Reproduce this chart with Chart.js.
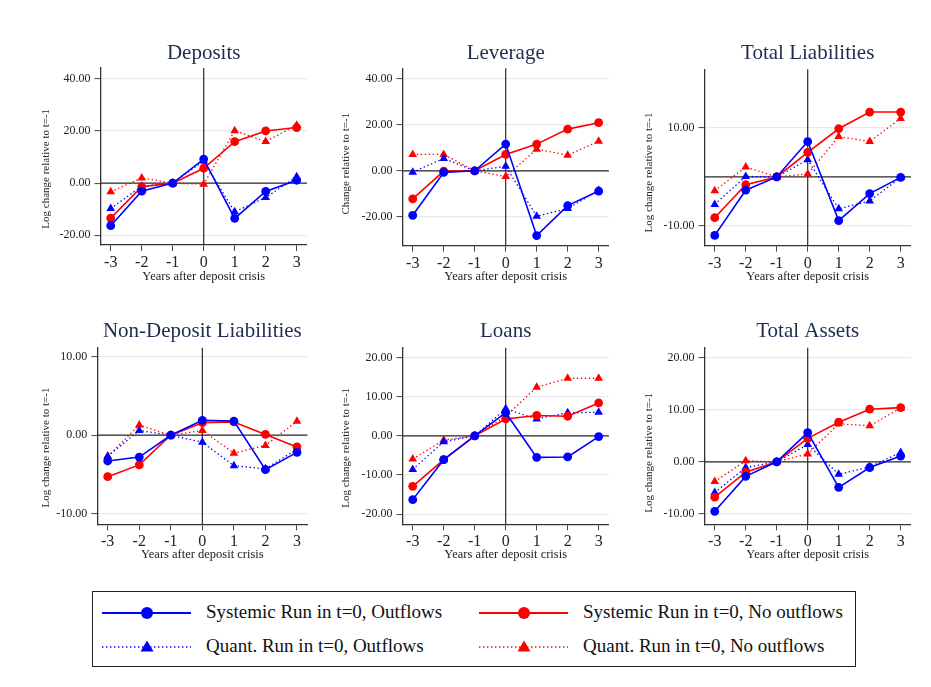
<!DOCTYPE html>
<html>
<head>
<meta charset="utf-8">
<script src="https://cdn.jsdelivr.net/npm/chart.js@4.4.1/dist/chart.umd.min.js"></script>
<style>
  html, body { margin: 0; padding: 0; background: #fff; }
  body { width: 931px; height: 687px; position: relative; overflow: hidden;
         font-family: "Liberation Serif", "Times New Roman", serif; }
  canvas.panel { position: absolute; }
  #legend { position: absolute; left: 92px; top: 591px; width: 764px; height: 76px;
            border: 1.5px solid #222; box-sizing: border-box; }
  #legend .item { position: absolute; height: 30px; }
  #legend svg { position: absolute; left: 0; top: 0; }
  #legend span { position: absolute; top: 3px; font-size: 19px; color: #111; white-space: nowrap; }
</style>
</head>
<body>
<canvas class="panel" id="p0"></canvas>
<canvas class="panel" id="p1"></canvas>
<canvas class="panel" id="p2"></canvas>
<canvas class="panel" id="p3"></canvas>
<canvas class="panel" id="p4"></canvas>
<canvas class="panel" id="p5"></canvas>
<div id="legend"></div>

<script>
// ---- Data ----------------------------------------------------------------
const years = [-3, -2, -1, 0, 1, 2, 3];
const xTicks = [-3, -2, -1, 0, 1, 2, 3];
const xTitle = "Years after deposit crisis";

const seriesNames = [
  "Systemic Run in t=0, Outflows",
  "Systemic Run in t=0, No outflows",
  "Quant. Run in t=0, Outflows",
  "Quant. Run in t=0, No outflows"
];

const panelTitles = ["Deposits", "Leverage", "Total Liabilities",
                     "Non-Deposit Liabilities", "Loans", "Total Assets"];
const yTitles = ["Log change relative to t=-1", "Change relative to t=-1",
                 "Log change relative to t=-1", "Log change relative to t=-1",
                 "Log change relative to t=-1", "Log change relative to t=-1"];

// Deposits
const depositsSysOut   = [-16.3, -3.1, 0, 9.2, -13.5, -3.2, 1.1];
const depositsSysNo    = [-13.4, -1.4, 0, 5.7, 15.9, 20.0, 21.3];
const depositsQuantOut = [-9.7, -1.2, 0, 8.5, -11.0, -5.5, 2.4];
const depositsQuantNo  = [-3.3, 2.0, 0, -0.4, 20.1, 15.9, 22.2];
const depositsTicks    = [-20, 0, 20, 40];

// Leverage
const leverageSysOut   = [-19.3, -0.7, 0, 11.6, -28.1, -15.1, -8.8];
const leverageSysNo    = [-12.2, -0.1, 0, 7.1, 11.6, 18.1, 20.9];
const leverageQuantOut = [-0.6, 5.4, 0, 2.0, -19.7, -16.4, -8.4];
const leverageQuantNo  = [7.1, 7.1, 0, -2.5, 9.4, 6.8, 12.8];
const leverageTicks    = [-20, 0, 20, 40];

// Total Liabilities
const liabSysOut   = [-11.9, -2.7, 0, 7.2, -8.9, -3.4, -0.1];
const liabSysNo    = [-8.3, -1.6, 0, 5.0, 9.8, 13.2, 13.2];
const liabQuantOut = [-5.6, 0.1, 0, 3.5, -6.5, -4.9, -0.1];
const liabQuantNo  = [-2.8, 2.0, 0, 0.6, 8.2, 7.2, 11.9];
const liabTicks    = [-10, 10];

// Non-Deposit Liabilities
const nonDepSysOut   = [-3.3, -2.8, 0, 1.9, 1.8, -4.4, -2.2];
const nonDepSysNo    = [-5.3, -3.8, 0, 1.6, 1.7, 0.1, -1.5];
const nonDepQuantOut = [-2.7, 0.6, 0, -0.9, -3.9, -4.3, -1.8];
const nonDepQuantNo  = [-2.7, 1.3, 0, 0.6, -2.3, -1.3, 1.8];
const nonDepTicks    = [-10, 0, 10];

// Loans
const loansSysOut   = [-16.3, -6.1, 0, 5.9, -5.5, -5.4, -0.2];
const loansSysNo    = [-12.9, -6.1, 0, 4.3, 5.2, 5.0, 8.4];
const loansQuantOut = [-8.6, -1.5, 0, 6.9, 4.3, 5.9, 6.0];
const loansQuantNo  = [-5.9, -1.1, 0, 5.0, 12.4, 14.7, 14.7];
const loansTicks    = [-20, -10, 0, 10, 20];

// Total Assets
const assetsSysOut   = [-9.5, -2.8, 0, 5.6, -4.9, -1.1, 1.1];
const assetsSysNo    = [-6.8, -2.0, 0, 4.5, 7.6, 10.1, 10.4];
const assetsQuantOut = [-5.9, -1.1, 0, 3.3, -2.4, -1.0, 1.8];
const assetsQuantNo  = [-3.8, 0.2, 0, 1.5, 7.3, 6.9, 10.3];
const assetsTicks    = [-10, 0, 10, 20];

// ---- Panel table built from the arrays above --------------------------------
const panelSeries = [
  [depositsSysOut, depositsSysNo, depositsQuantOut, depositsQuantNo],
  [leverageSysOut, leverageSysNo, leverageQuantOut, leverageQuantNo],
  [liabSysOut, liabSysNo, liabQuantOut, liabQuantNo],
  [nonDepSysOut, nonDepSysNo, nonDepQuantOut, nonDepQuantNo],
  [loansSysOut, loansSysNo, loansQuantOut, loansQuantNo],
  [assetsSysOut, assetsSysNo, assetsQuantOut, assetsQuantNo]
];
const panelTicks = [depositsTicks, leverageTicks, liabTicks, nonDepTicks, loansTicks, assetsTicks];
const panelRanges = [[-23.7, 44.1], [-32.5, 44.5], [-14.0, 21.9],
                     [-11.4, 11.2], [-22.6, 22.5], [-12.0, 21.9]];
const X_MIN = -3.33, X_MAX = 3.33;

// ---- Page geometry (canvas box + plot area, page pixels) --------------------
const frames = [
  { cx0: 0,   cx1: 320, cy0: 30,  cy1: 290, L: 100.5, R: 306.9, T: 68.0,  B: 245.0, titleY: 59,  yTitleX: 46,  yTitleY: 168.8, xTitleY: 276.7 },
  { cx0: 320, cx1: 620, cy0: 30,  cy1: 290, L: 402.5, R: 608.9, T: 68.3,  B: 245.7, titleY: 59,  yTitleX: 346, yTitleY: 163.7, xTitleY: 276.7 },
  { cx0: 620, cx1: 931, cy0: 30,  cy1: 290, L: 704.5, R: 910.9, T: 69.3,  B: 245.7, titleY: 59,  yTitleX: 649, yTitleY: 172.5, xTitleY: 276.7 },
  { cx0: 0,   cx1: 320, cy0: 305, cy1: 570, L: 97.3,  R: 307.4, T: 347.7, B: 524.3, titleY: 337, yTitleX: 46,  yTitleY: 447.5, xTitleY: 555 },
  { cx0: 320, cx1: 620, cy0: 305, cy1: 570, L: 402.5, R: 608.9, T: 347.7, B: 524.3, titleY: 337, yTitleX: 346, yTitleY: 447.8, xTitleY: 555 },
  { cx0: 620, cx1: 931, cy0: 305, cy1: 570, L: 704.5, R: 910.9, T: 347.7, B: 524.3, titleY: 337, yTitleX: 649, yTitleY: 452.8, xTitleY: 555 }
];

const BLUE = '#0000ff', RED = '#ff0000';
const SERIF = '"Liberation Serif", "Times New Roman", serif';
const seriesStyles = [
  { color: BLUE, dash: [],         width: 1.6, point: 'circle',   radius: 4.4 },
  { color: RED,  dash: [],         width: 1.6, point: 'circle',   radius: 4.4 },
  { color: BLUE, dash: [1.4, 2.6], width: 1.3, point: 'triangle', radius: 5.0 },
  { color: RED,  dash: [1.4, 2.6], width: 1.3, point: 'triangle', radius: 5.0 }
];

// Reference lines at x = 0 and y = 0, drawn under the series
const zeroLines = {
  id: 'zeroLines',
  beforeDatasetsDraw(chart) {
    const { ctx, chartArea: a, scales: { x, y } } = chart;
    ctx.save();
    ctx.strokeStyle = '#2a2a2a';
    ctx.lineWidth = 1.2;
    const py = y.getPixelForValue(0), px = x.getPixelForValue(0);
    ctx.beginPath();
    ctx.moveTo(a.left, py); ctx.lineTo(a.right, py);
    ctx.moveTo(px, a.top); ctx.lineTo(px, a.bottom);
    ctx.stroke();
    ctx.restore();
  }
};

// Panel heading and axis titles
const panelText = {
  id: 'panelText',
  afterDraw(chart, args, o) {
    const { ctx, chartArea: a } = chart;
    const cx = (a.left + a.right) / 2;
    ctx.save();
    ctx.fillStyle = '#1d2d50';
    ctx.font = '21px ' + SERIF;
    ctx.textAlign = 'center';
    ctx.textBaseline = 'alphabetic';
    ctx.fillText(o.title, cx, o.titleY);

    ctx.fillStyle = '#222';
    ctx.font = '12.5px ' + SERIF;
    ctx.textBaseline = 'middle';
    ctx.fillText(o.xTitle, cx, o.xTitleY);

    ctx.font = '11px ' + SERIF;
    ctx.translate(o.yTitleX, o.yTitleY);
    ctx.rotate(-Math.PI / 2);
    ctx.fillText(o.yTitle, 0, 0);
    ctx.restore();
  }
};

panelTitles.forEach((title, i) => {
  const f = frames[i];
  const cv = document.getElementById('p' + i);
  const w = f.cx1 - f.cx0, h = f.cy1 - f.cy0;
  cv.width = w; cv.height = h;
  cv.style.left = f.cx0 + 'px'; cv.style.top = f.cy0 + 'px';
  cv.style.width = w + 'px'; cv.style.height = h + 'px';

  const datasets = panelSeries[i].map((vals, k) => {
    const s = seriesStyles[k];
    return {
      label: seriesNames[k],
      data: years.map((yr, j) => ({ x: yr, y: vals[j] })),
      borderColor: s.color,
      backgroundColor: s.color,
      borderWidth: s.width,
      borderDash: s.dash,
      pointStyle: s.point,
      pointRadius: s.radius,
      pointBackgroundColor: s.color,
      pointBorderColor: s.color,
      pointBorderWidth: 0,
      tension: 0,
      fill: false
    };
  });

  const ticks = panelTicks[i];
  const [yMin, yMax] = panelRanges[i];

  new Chart(cv, {
    type: 'line',
    data: { datasets },
    options: {
      responsive: false,
      animation: false,
      devicePixelRatio: 1,
      layout: { padding: { top: f.T - f.cy0, right: f.cx1 - f.R, left: 0, bottom: 0 } },
      plugins: {
        legend: { display: false },
        tooltip: { enabled: false },
        title: { display: false },
        panelText: {
          title,
          titleY: f.titleY - f.cy0,
          xTitle,
          xTitleY: f.xTitleY - f.cy0,
          yTitle: yTitles[i],
          yTitleX: f.yTitleX - f.cx0,
          yTitleY: f.yTitleY - f.cy0
        }
      },
      scales: {
        x: {
          type: 'linear',
          min: X_MIN, max: X_MAX,
          afterBuildTicks: s => { s.ticks = xTicks.map(v => ({ value: v })); },
          afterFit: s => { s.height = f.cy1 - f.B; },
          grid: { drawOnChartArea: false, drawTicks: true, tickLength: 6, tickColor: '#444', tickWidth: 1 },
          border: { display: true, color: '#333', width: 1.3 },
          ticks: { color: '#222', padding: 2, maxRotation: 0, autoSkip: false,
                   font: { family: SERIF, size: 16 },
                   callback: v => String(v) }
        },
        y: {
          type: 'linear',
          min: yMin, max: yMax,
          afterBuildTicks: s => { s.ticks = ticks.map(v => ({ value: v })); },
          afterFit: s => { s.width = f.L - f.cx0; },
          grid: { color: '#e3ebef', lineWidth: 1.2, drawTicks: true, tickLength: 6, tickColor: '#444', tickWidth: 1 },
          border: { display: true, color: '#333', width: 1.3 },
          ticks: { color: '#222', padding: 4, autoSkip: false,
                   font: { family: SERIF, size: 12 },
                   callback: v => v.toFixed(2) }
        }
      }
    },
    plugins: [zeroLines, panelText]
  });
});

// ---- Legend ---------------------------------------------------------------
const legend = document.getElementById('legend');
const legendSlots = [
  { left: 9,   top: 6 },
  { left: 386, top: 6 },
  { left: 9,   top: 40 },
  { left: 386, top: 40 }
];
const NS = 'http://www.w3.org/2000/svg';
seriesNames.forEach((name, k) => {
  const s = seriesStyles[k];
  const slot = legendSlots[k];
  const item = document.createElement('div');
  item.className = 'item';
  item.style.left = slot.left + 'px';
  item.style.top = slot.top + 'px';
  item.style.width = '370px';

  const svg = document.createElementNS(NS, 'svg');
  svg.setAttribute('width', '92');
  svg.setAttribute('height', '30');
  const line = document.createElementNS(NS, 'line');
  line.setAttribute('x1', '0'); line.setAttribute('x2', '89');
  line.setAttribute('y1', '15'); line.setAttribute('y2', '15');
  line.setAttribute('stroke', s.color);
  if (s.dash.length) {
    line.setAttribute('stroke-width', '1.3');
    line.setAttribute('stroke-dasharray', '1.4 2.6');
  } else {
    line.setAttribute('stroke-width', '2');
  }
  svg.appendChild(line);
  let mark;
  if (s.point === 'circle') {
    mark = document.createElementNS(NS, 'circle');
    mark.setAttribute('cx', '45'); mark.setAttribute('cy', '15'); mark.setAttribute('r', '6');
  } else {
    mark = document.createElementNS(NS, 'polygon');
    mark.setAttribute('points', '45,8.5 51.5,19.5 38.5,19.5');
  }
  mark.setAttribute('fill', s.color);
  svg.appendChild(mark);
  item.appendChild(svg);

  const label = document.createElement('span');
  label.style.left = '104px';
  label.textContent = name;
  item.appendChild(label);
  legend.appendChild(item);
});
</script>
</body>
</html>
